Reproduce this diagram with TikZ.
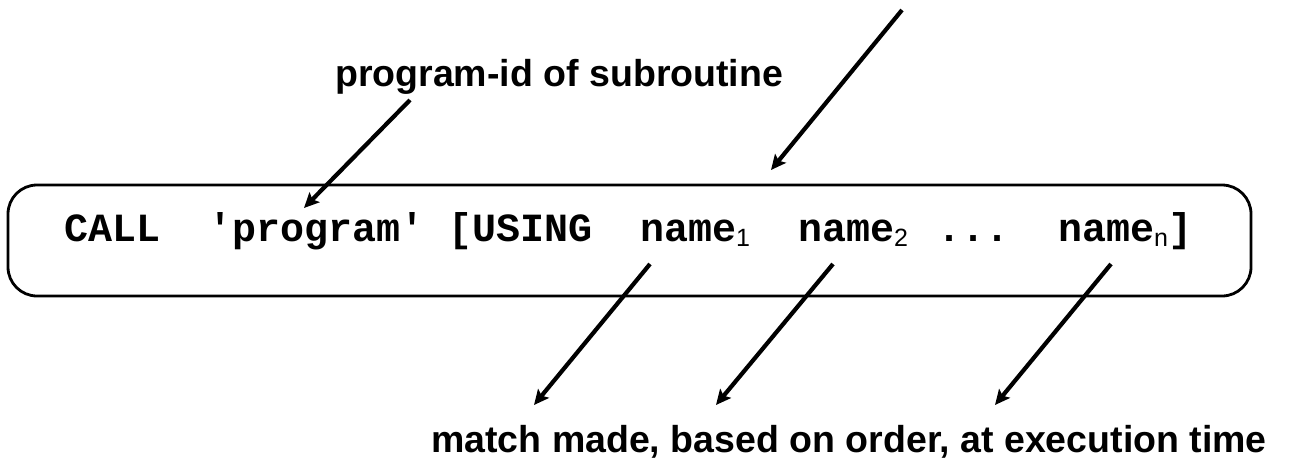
\documentclass[tikz,border=0pt]{standalone}
\usepackage{fontspec}
\setsansfont{Liberation Sans}
\setmonofont{Liberation Mono}
\usetikzlibrary{positioning, arrows.meta}

\newcommand{\argsub}[1]{\raisebox{-5.5pt}{\sffamily\mdseries\fontsize{25}{25}\selectfont #1}}

\begin{document}
\begin{tikzpicture}[
    x=1pt, y=-1pt,
    callbox/.style={draw, line width=2.8pt, rounded corners=29pt, minimum width=1243pt, minimum height=111pt, inner sep=0pt},
    token/.style={anchor=base west, inner sep=0pt, font=\fontsize{40}{40}\selectfont\ttfamily\bfseries},
    note/.style={anchor=base west, inner sep=0pt, font=\fontsize{37.5}{37.5}\selectfont\sffamily\bfseries},
    ptr/.style={-{Stealth[length=15pt, width=14pt, inset=3pt]}, line width=4.2pt}
]
    \useasboundingbox (0,0) rectangle (1295,458);

    % the statement in its box
    \node[callbox] (stmt) at (629.5,240.5) {};
    \node[token] (callkw) at (64,241) {CALL};
    \node[token] (progname) at (208,241) {'program'};
    \node[token] (usingkw) at (448,241) {[USING};
    \node[token] (nameone) at (640,241) {name\argsub{1}};
    \node[token] (nametwo) at (798,241) {name\argsub{2}};
    \node[token] (dots) at (937,241) {...};
    \node[token] (namen) at (1058,241) {name\argsub{n}]};

    % notes
    \node[note] (pidnote) at (335,86) {program-id of subroutine};
    \node[note] (matchnote) at (431,452) {match made, based on order, at execution time};

    % arrow ends
    \coordinate (pidtail) at (410,100);
    \coordinate (pidtip) at (304,208);
    \coordinate (toptail) at (902,10);
    \coordinate (toptip) at (771,170);
    \coordinate (onetail) at (650,264);
    \coordinate (onetip) at (534,405);
    \coordinate (twotail) at (833,264);
    \coordinate (twotip) at (716,405);
    \coordinate (ntail) at (1111,264);
    \coordinate (ntip) at (995,405);

    % Arrows
    \draw[ptr] (pidtail) -- (pidtip);
    \draw[ptr] (toptail) -- (toptip);
    \draw[ptr] (onetail) -- (onetip);
    \draw[ptr] (twotail) -- (twotip);
    \draw[ptr] (ntail) -- (ntip);
\end{tikzpicture}
\end{document}
